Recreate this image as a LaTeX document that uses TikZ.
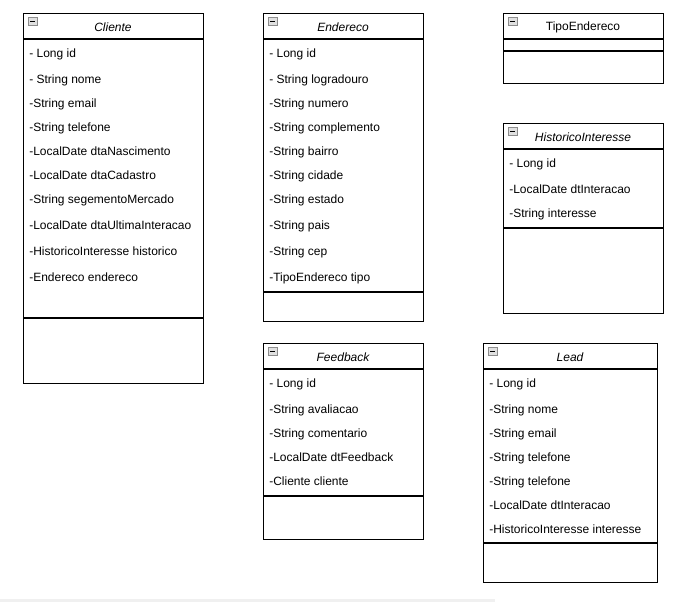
\documentclass[tikz,border=0pt]{standalone}
\usepackage{fontspec}
\setmainfont{Liberation Sans}
\begin{document}
\begin{tikzpicture}[x=0.75pt,y=-0.75pt,
  box/.style={draw=black,line width=0.8pt,fill=white,anchor=north west,inner sep=0pt},
  sep/.style={draw=black,line width=0.8pt},
  attr/.style={anchor=mid west,inner sep=0pt,yshift=-1.2pt,font=\fontsize{9}{11}\selectfont},
  ttl/.style={inner sep=0pt,yshift=-0.9pt,font=\fontsize{9}{11}\selectfont\itshape},
  ttlup/.style={inner sep=0pt,yshift=-0.9pt,font=\fontsize{9}{11}\selectfont},
  icon/.style={draw=black!45,fill=black!12,line width=0.5pt,minimum width=6.75pt,minimum height=6pt,inner sep=0pt,anchor=north west,
    path picture={\draw[black,line width=0.6pt] ([xshift=1.4pt]path picture bounding box.west) -- ([xshift=-1.4pt]path picture bounding box.east);}}
]
\useasboundingbox (0,0) rectangle (692,602);
\fill[white] (0,0) rectangle (692,602);
\fill[black!6] (0,599) rectangle (495,602);

% Cliente
\node[box,minimum width=135pt,minimum height=277.5pt] (cli) at (23,13) {};
\draw[sep] (23,39) -- (203,39);
\draw[sep] (23,318) -- (203,318);
\node[icon] (cliI) at (28,17) {};
\node[ttl] (cliT) at (113,26.5) {Cliente};
\node[attr] (c1) at (29,52) {- Long id};
\node[attr] (c2) at (29,78) {- String nome};
\node[attr] (c3) at (29,102) {-String email};
\node[attr] (c4) at (29,126) {-String telefone};
\node[attr] (c5) at (29,150) {-LocalDate dtaNascimento};
\node[attr] (c6) at (29,174) {-LocalDate dtaCadastro};
\node[attr] (c7) at (29,198) {-String segementoMercado};
\node[attr] (c8) at (29,224) {-LocalDate dtaUltimaInteracao};
\node[attr] (c9) at (29,250) {-HistoricoInteresse historico};
\node[attr] (c10) at (29,276) {-Endereco endereco};

% Endereco
\node[box,minimum width=120pt,minimum height=231pt] (end) at (263,13) {};
\draw[sep] (263,39) -- (423,39);
\draw[sep] (263,292) -- (423,292);
\node[icon] (endI) at (268,17) {};
\node[ttl] (endT) at (343,26.5) {Endereco};
\node[attr] (e1) at (269,52) {- Long id};
\node[attr] (e2) at (269,78) {- String logradouro};
\node[attr] (e3) at (269,102) {-String numero};
\node[attr] (e4) at (269,126) {-String complemento};
\node[attr] (e5) at (269,150) {-String bairro};
\node[attr] (e6) at (269,174) {-String cidade};
\node[attr] (e7) at (269,198) {-String estado};
\node[attr] (e8) at (269,224) {-String pais};
\node[attr] (e9) at (269,250) {-String cep};
\node[attr] (e10) at (269,276) {-TipoEndereco tipo};

% TipoEndereco
\node[box,minimum width=120pt,minimum height=52.5pt] (tip) at (503,13) {};
\draw[sep] (503,39) -- (663,39);
\draw[sep] (503,51) -- (663,51);
\node[icon] (tipI) at (508,17) {};
\node[ttlup] (tipT) at (583,26.5) {TipoEndereco};

% HistoricoInteresse
\node[box,minimum width=120pt,minimum height=142.5pt] (his) at (503,123) {};
\draw[sep] (503,149) -- (663,149);
\draw[sep] (503,228) -- (663,228);
\node[icon] (hisI) at (508,127) {};
\node[ttl] (hisT) at (583,136.5) {HistoricoInteresse};
\node[attr] (h1) at (509,162) {- Long id};
\node[attr] (h2) at (509,188) {-LocalDate dtInteracao};
\node[attr] (h3) at (509,212) {-String interesse};

% Feedback
\node[box,minimum width=120pt,minimum height=147pt] (fee) at (263,343) {};
\draw[sep] (263,369) -- (423,369);
\draw[sep] (263,496) -- (423,496);
\node[icon] (feeI) at (268,347) {};
\node[ttl] (feeT) at (343,356.5) {Feedback};
\node[attr] (f1) at (269,382) {- Long id};
\node[attr] (f2) at (269,408) {-String avaliacao};
\node[attr] (f3) at (269,432) {-String comentario};
\node[attr] (f4) at (269,456) {-LocalDate dtFeedback};
\node[attr] (f5) at (269,480) {-Cliente cliente};

% Lead
\node[box,minimum width=130.5pt,minimum height=179.25pt] (lea) at (483,343) {};
\draw[sep] (483,369) -- (657,369);
\draw[sep] (483,543) -- (657,543);
\node[icon] (leaI) at (488,347) {};
\node[ttl] (leaT) at (570,356.5) {Lead};
\node[attr] (l1) at (489,382) {- Long id};
\node[attr] (l2) at (489,408) {-String nome};
\node[attr] (l3) at (489,432) {-String email};
\node[attr] (l4) at (489,456) {-String telefone};
\node[attr] (l5) at (489,480) {-String telefone};
\node[attr] (l6) at (489,504) {-LocalDate dtInteracao};
\node[attr] (l7) at (489,528) {-HistoricoInteresse interesse};
\end{tikzpicture}
\end{document}
